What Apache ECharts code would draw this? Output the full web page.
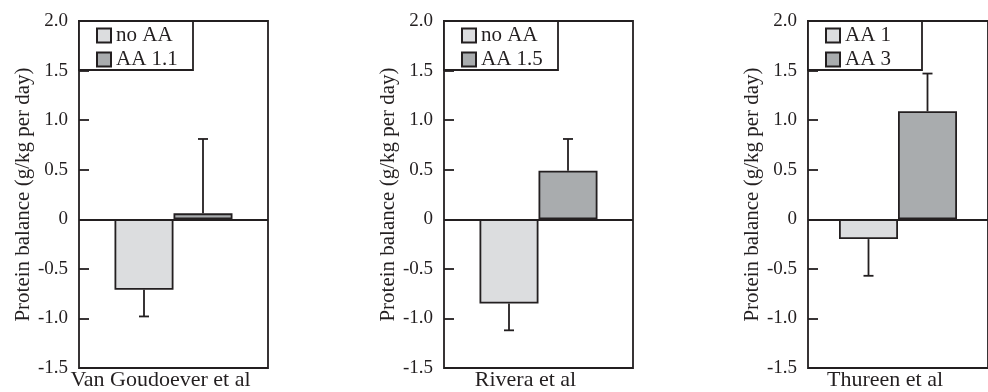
<!DOCTYPE html>
<html>
<head>
<meta charset="utf-8">
<script src="https://cdn.jsdelivr.net/npm/echarts@6/dist/echarts.min.js"></script>
<style>
  html, body { margin: 0; padding: 0; background: #fff; overflow: hidden; }
  #chart { width: 988px; height: 392px; }
</style>
</head>
<body>
<div id="chart"></div>
<script>
// one study per panel
var studies = ['Van Goudoever et al', 'Rivera et al', 'Thureen et al'];
var lowNames = ['no AA', 'no AA', 'AA 1'];
var highNames = ['AA 1.1', 'AA 1.5', 'AA 3'];
var lowValues = [-0.71, -0.85, -0.20];
var highValues = [0.06, 0.49, 1.09];
var lowErr = [0.27, 0.27, 0.37];
var highErr = [0.75, 0.32, 0.38];
var yTickLabels = ['-1.5', '-1.0', '-0.5', '0', '0.5', '1.0', '1.5', '2.0'];

var ink = '#231f20';
var lightFill = '#dcdddf';
var darkFill = '#a9acae';
var font = 'Liberation Serif';
var gridLefts = [79, 444, 808];
var gridWidths = [189, 189, 197];
var barW = 59;
var lw = 1.8;

function errorSeries(name, idx, value, err, offset) {
    return {
        type: 'custom',
        name: name,
        xAxisIndex: idx,
        yAxisIndex: idx,
        z: 3,
        data: [[0, value, value + (value < 0 ? -err : err)]],
        renderItem: function (params, api) {
            var p0 = api.coord([api.value(0), api.value(1)]);
            var p1 = api.coord([api.value(0), api.value(2)]);
            var x = p0[0] + offset;
            var st = { stroke: ink, lineWidth: lw };
            return {
                type: 'group',
                children: [
                    { type: 'line', shape: { x1: x, y1: p0[1], x2: x, y2: p1[1] }, style: st },
                    { type: 'line', shape: { x1: x - 5, y1: p1[1], x2: x + 5, y2: p1[1] }, style: st }
                ]
            };
        }
    };
}

var grids = [], xAxes = [], yAxes = [], legends = [], series = [], boxes = [];
studies.forEach(function (s, i) {
    grids.push({
        left: gridLefts[i], top: 21, width: gridWidths[i], height: 347,
        show: true, borderColor: ink, borderWidth: lw, backgroundColor: '#fff'
    });
    xAxes.push({
        type: 'category', gridIndex: i, data: [s], position: 'bottom',
        axisLine: { show: false, onZero: false }, axisTick: { show: false },
        axisLabel: { color: ink, fontFamily: font, fontSize: 22, margin: 1, padding: [0, 26, 0, 0] }
    });
    yAxes.push({
        type: 'value', gridIndex: i, min: -1.5, max: 2, interval: 0.5,
        name: 'Protein balance (g/kg per day)', nameLocation: 'middle', nameGap: 45,
        nameTextStyle: { color: ink, fontFamily: font, fontSize: 21 },
        axisLine: { show: false }, splitLine: { show: false },
        axisTick: { show: true, inside: true, length: 10, lineStyle: { color: ink, width: lw } },
        axisLabel: {
            color: ink, fontFamily: font, fontSize: 19, margin: 11,
            formatter: function (v) { return yTickLabels[Math.round((v + 1.5) / 0.5)]; }
        }
    });
    // legend frame: same size in every panel
    boxes.push({
        type: 'rect', z: 3, silent: true,
        shape: { x: gridLefts[i], y: 21, width: 114, height: 49 },
        style: { fill: '#fff', stroke: ink, lineWidth: lw }
    });
    legends.push({
        data: [lowNames[i], highNames[i]], orient: 'vertical', icon: 'rect',
        left: gridLefts[i], top: 21, padding: [4, 0, 2, 17], z: 5,
        itemWidth: 14, itemHeight: 14, itemGap: 3, itemTextGap: 10,
        selectedMode: false,
        textStyle: { color: ink, fontFamily: font, fontSize: 21 }
    });
    series.push({
        type: 'bar', name: lowNames[i], xAxisIndex: i, yAxisIndex: i,
        data: [lowValues[i]], barWidth: barW, barGap: '0%',
        itemStyle: { color: lightFill, borderColor: ink, borderWidth: lw },
        markLine: {
            silent: true, symbol: 'none', label: { show: false },
            lineStyle: { color: ink, width: lw, type: 'solid' },
            data: [{ yAxis: 0 }]
        }
    });
    series.push({
        type: 'bar', name: highNames[i], xAxisIndex: i, yAxisIndex: i,
        data: [highValues[i]], barWidth: barW, barGap: '0%',
        itemStyle: { color: darkFill, borderColor: ink, borderWidth: lw }
    });
    series.push(errorSeries('errLow' + i, i, lowValues[i], lowErr[i], -barW / 2));
    series.push(errorSeries('errHigh' + i, i, highValues[i], highErr[i], barW / 2));
});

var myChart = echarts.init(document.getElementById('chart'));
myChart.setOption({
    animation: false,
    backgroundColor: '#fff',
    grid: grids,
    xAxis: xAxes,
    yAxis: yAxes,
    legend: legends,
    graphic: boxes,
    series: series
});
</script>
</body>
</html>
